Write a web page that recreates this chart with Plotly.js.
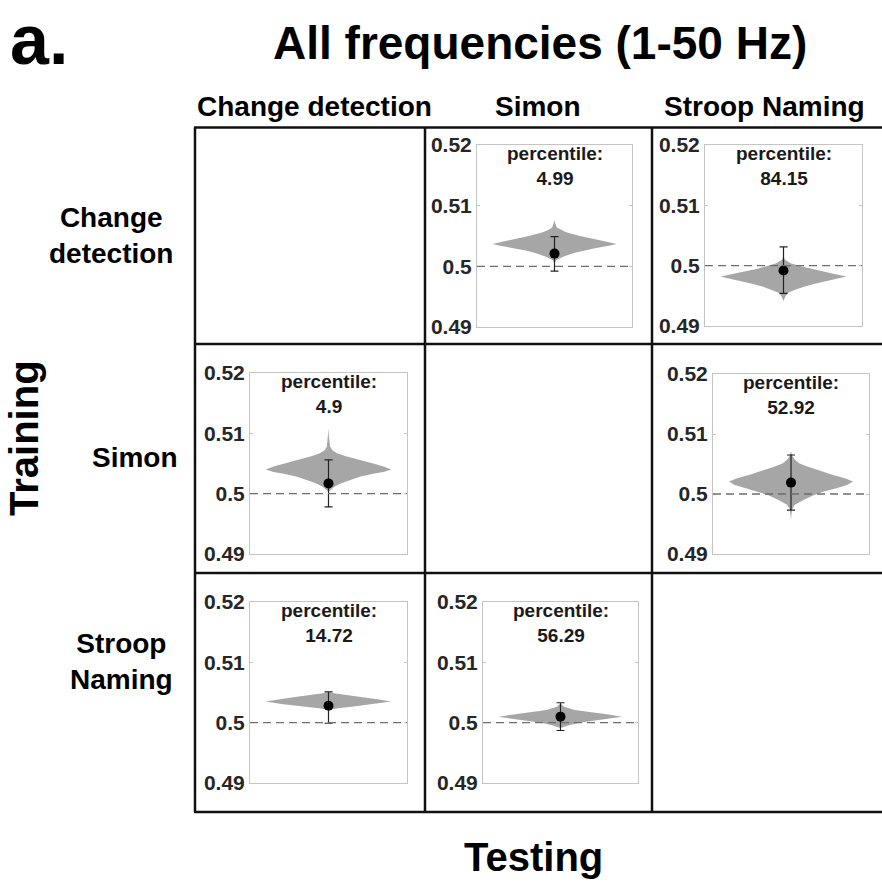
<!DOCTYPE html>
<html><head><meta charset="utf-8">
<script src="https://cdn.plot.ly/plotly-3.0.1.min.js"></script>
<style>html,body{margin:0;padding:0;background:#fff}#chart{width:882px;height:884px}</style>
</head><body><div id="chart"></div>
<script>
// ---------------- data ----------------
const colTasks = ['Change detection', 'Simon', 'Stroop Naming'];          // Testing
const rowTasks = ['Change<br>detection', 'Simon', 'Stroop<br>Naming'];    // Training
const panelTrain = [0, 0, 1, 1, 2, 2];
const panelTest  = [1, 2, 0, 2, 0, 1];
const percentiles = ['4.99', '84.15', '4.9', '52.92', '14.72', '56.29'];
const meanAcc  = [0.5021, 0.4992, 0.5017, 0.5019, 0.5028, 0.5010];
const errPlus  = [0.0028, 0.0039, 0.0039, 0.0046, 0.0023, 0.0023];
const errMinus = [0.0029, 0.0038, 0.0039, 0.0046, 0.0029, 0.0023];
const chanceLevel = 0.5;
const yTicks = [0.49, 0.5, 0.51, 0.52];
const yTickText = ['0.49', '0.5', '0.51', '0.52'];

// null-distribution (violin) profiles: accuracy level and relative half-width
const violinLevels1    = [0.5076, 0.5070, 0.5064, 0.5060, 0.5056, 0.5050, 0.5045, 0.5041, 0.5037, 0.5034, 0.5030, 0.5026, 0.5022, 0.5016, 0.5011, 0.5006];
const violinHalfWidth1 = [0, 0.01, 0.03, 0.08, 0.15, 0.33, 0.50, 0.66, 0.80, 0.70, 0.52, 0.37, 0.25, 0.11, 0.03, 0];
const violinLevels2    = [0.5015, 0.5010, 0.5004, 0.4999, 0.4995, 0.4987, 0.4982, 0.4979, 0.4976, 0.4970, 0.4965, 0.4960, 0.4955, 0.4948, 0.4941];
const violinHalfWidth2 = [0, 0.02, 0.09, 0.22, 0.33, 0.62, 0.80, 0.71, 0.60, 0.40, 0.26, 0.15, 0.06, 0.02, 0];
const violinLevels3    = [0.5108, 0.5095, 0.5085, 0.5078, 0.5072, 0.5067, 0.5062, 0.5058, 0.5054, 0.5050, 0.5045, 0.5040, 0.5036, 0.5033, 0.5028, 0.5022, 0.5016, 0.5011, 0.5003];
const violinHalfWidth3 = [0, 0.005, 0.01, 0.02, 0.05, 0.11, 0.22, 0.33, 0.45, 0.57, 0.70, 0.80, 0.70, 0.57, 0.40, 0.26, 0.14, 0.07, 0];
const violinLevels4    = [0.5071, 0.5063, 0.5057, 0.5051, 0.5046, 0.5039, 0.5032, 0.5026, 0.5021, 0.5015, 0.5009, 0.5004, 0.4998, 0.4990, 0.4982, 0.4975, 0.4965, 0.4957];
const violinHalfWidth4 = [0, 0.02, 0.05, 0.11, 0.21, 0.36, 0.53, 0.70, 0.795, 0.72, 0.57, 0.42, 0.29, 0.16, 0.05, 0.015, 0.005, 0];
const violinLevels5    = [0.5050, 0.5047, 0.5043, 0.5039, 0.5035, 0.5031, 0.5027, 0.5024, 0.5021];
const violinHalfWidth5 = [0, 0.15, 0.40, 0.62, 0.80, 0.60, 0.32, 0.12, 0];
const violinLevels6    = [0.5032, 0.5027, 0.5021, 0.5018, 0.5014, 0.5010, 0.5007, 0.5004, 0.5000, 0.4996, 0.4991];
const violinHalfWidth6 = [0, 0.04, 0.18, 0.35, 0.60, 0.795, 0.65, 0.47, 0.25, 0.12, 0];

const violinLevels = [violinLevels1, violinLevels2, violinLevels3, violinLevels4, violinLevels5, violinLevels6];
const violinHalfWidths = [violinHalfWidth1, violinHalfWidth2, violinHalfWidth3, violinHalfWidth4, violinHalfWidth5, violinHalfWidth6];

// ---------------- layout geometry (pixels) ----------------
const W = 882, H = 884;
const FONT = 'Arial, "Liberation Sans", Helvetica, sans-serif';
const colX = [195, 425, 652, 882];
const rowY = [127.5, 344, 573, 812];
const colLabelX = [314, 538, 764];
const rowLabelPos = [[111, 236], [135, 457], [121, 661]];
// plot boxes per panel: [left, right, top, bottom]
const panelBoxes = [[477, 632, 145, 327], [705, 862, 145, 326], [250, 407, 373, 554],
                    [713, 869, 374, 554], [250, 407, 602, 783], [483, 638, 602, 783]];

const px = v => v / W;
const py = v => 1 - v / H;

const traces = [];
const layout = {
  width: W, height: H,
  margin: {l: 0, r: 0, t: 0, b: 0},
  paper_bgcolor: '#fff', plot_bgcolor: '#fff',
  showlegend: false,
  font: {family: FONT, color: '#000'},
  shapes: [], annotations: []
};

percentiles.forEach((p, i) => {
  const k = i + 1;
  const xa = 'x' + k, ya = 'y' + k;
  const lev = violinLevels[i], hw = violinHalfWidths[i];
  const xs = hw.map(w => -w).concat(hw.slice().reverse());
  const ys = lev.concat(lev.slice().reverse());
  traces.push({type: 'scatter', mode: 'lines', x: xs, y: ys, fill: 'toself',
    fillcolor: '#a6a6a6', line: {width: 0, color: '#a6a6a6'}, hoverinfo: 'skip',
    xaxis: xa, yaxis: ya});
  traces.push({type: 'scatter', mode: 'markers', x: [0], y: [meanAcc[i]],
    marker: {color: '#000', size: 10},
    error_y: {type: 'data', symmetric: false, array: [errPlus[i]], arrayminus: [errMinus[i]],
      color: '#222', thickness: 1.2, width: 4},
    xaxis: xa, yaxis: ya});

  const b = panelBoxes[i];
  layout['xaxis' + k] = {domain: [px(b[0]), px(b[1])], range: [-1, 1], anchor: ya,
    showgrid: false, zeroline: false, showticklabels: false, ticks: '',
    showline: true, mirror: true, linecolor: '#c4c4c4', linewidth: 1, fixedrange: true};
  layout['yaxis' + k] = {domain: [py(b[3]), py(b[2])], range: [0.49, 0.52], anchor: xa,
    tickmode: 'array', tickvals: yTicks, ticktext: yTickText,
    showgrid: false, zeroline: false, ticks: 'inside', ticklen: 3, tickcolor: '#c4c4c4',
    showline: true, mirror: 'ticks', linecolor: '#c4c4c4', linewidth: 1,
    tickfont: {family: FONT, size: 21, color: '#262626', weight: 'bold'}, fixedrange: true};

  layout.shapes.push({type: 'line', layer: 'above', xref: xa + ' domain', yref: ya,
    x0: 0, x1: 1, y0: chanceLevel, y1: chanceLevel,
    line: {color: '#6e6e6e', width: 1.4, dash: '8px,5px'}});

  layout.annotations.push({xref: xa + ' domain', yref: ya + ' domain', x: 0.5, y: 1 - 21 / (b[3] - b[2]),
    xanchor: 'center', yanchor: 'middle', showarrow: false, align: 'center',
    text: 'percentile:<br>' + p,
    font: {family: FONT, size: 19, color: '#1a1a1a', weight: 'bold'}});
});

// table grid lines
colX.slice(0, 3).forEach(x => layout.shapes.push({type: 'line', xref: 'paper', yref: 'paper',
  x0: px(x), x1: px(x), y0: py(rowY[0]), y1: py(rowY[3]), line: {color: '#111', width: 2.5}}));
rowY.forEach(y => layout.shapes.push({type: 'line', xref: 'paper', yref: 'paper',
  x0: px(colX[0] - 1), x1: px(colX[3]), y0: py(y), y1: py(y), line: {color: '#111', width: 2.5}}));

const ann = (x, y, text, size, extra) => layout.annotations.push(Object.assign({
  xref: 'paper', yref: 'paper', x: px(x), y: py(y), xanchor: 'center', yanchor: 'middle',
  showarrow: false, text: text, align: 'center',
  font: {family: FONT, size: size, color: '#000', weight: 'bold'}}, extra || {}));

ann(39, 40, 'a.', 70);
ann(540, 43, 'All frequencies (1-50 Hz)', 46);
colTasks.forEach((t, j) => ann(colLabelX[j], 106, t, 28));
rowTasks.forEach((t, j) => ann(rowLabelPos[j][0], rowLabelPos[j][1], t, 28));
ann(24, 438, 'Training', 40, {textangle: -90});
ann(533, 857, 'Testing', 40);

Plotly.newPlot('chart', traces, layout, {staticPlot: true, displayModeBar: false});
</script>
</body></html>
